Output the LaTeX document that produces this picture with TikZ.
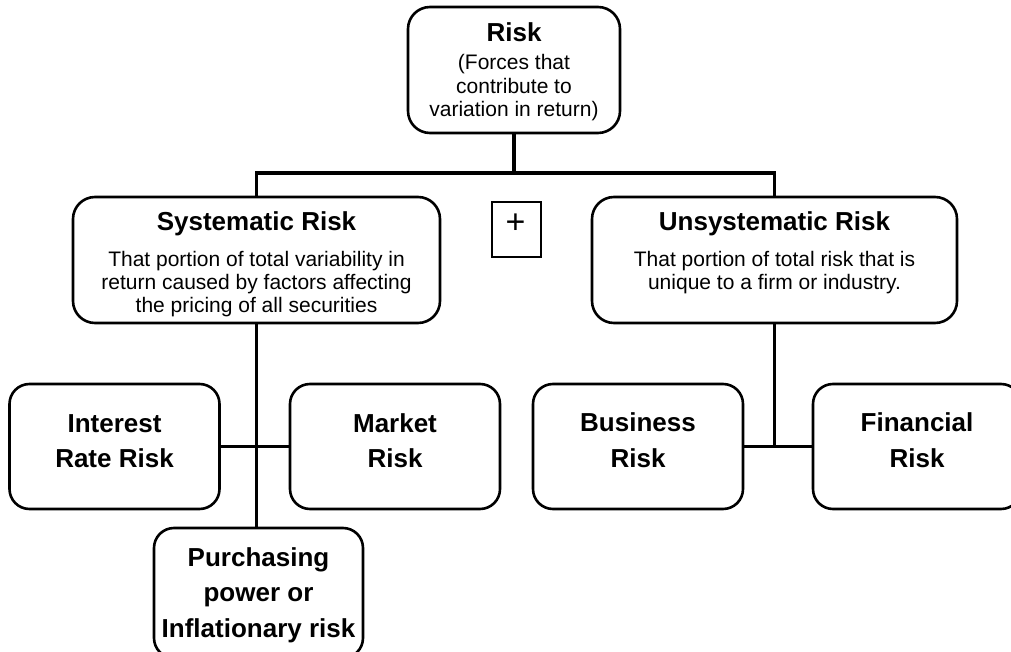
\documentclass[tikz,border=0pt]{standalone}
\usepackage{fontspec}
\setmainfont{Liberation Sans}
\begin{document}
\begin{tikzpicture}[x=1pt,y=-1pt,
  box/.style={draw=black, line width=2.6pt, rounded corners=22pt, fill=white, inner sep=0pt},
  leaf/.style={box, rounded corners=20pt, minimum width=210pt, minimum height=125pt},
  plusbox/.style={draw=black, line width=2.4pt, inner sep=0pt, minimum width=49pt, minimum height=55pt},
  conn/.style={draw=black, line width=3.2pt},
  hdr/.style={anchor=base, font=\fontsize{26}{30}\selectfont\bfseries, inner sep=0pt},
  bodytxt/.style={anchor=base, font=\fontsize{21}{24}\selectfont, inner sep=0pt}
]
\useasboundingbox (0,0) rectangle (1011,652);
\begin{scope}
\clip (0,0) rectangle (1011,652);
% boxes
\node[box, minimum width=212pt, minimum height=126pt] (risk) at (514,70) {};
\node[box, minimum width=367pt, minimum height=126pt] (sys) at (256.5,260) {};
\node[box, minimum width=365pt, minimum height=126pt] (uns) at (774.5,260) {};
\node[plusbox] (plus) at (516.5,229.5) {};
\node[leaf] (ir) at (114.5,446.5) {};
\node[leaf] (mk) at (395,446.5) {};
\node[leaf, minimum width=209pt, minimum height=130pt] (pur) at (258.5,593) {};
\node[leaf] (bus) at (638,446.5) {};
\node[leaf, minimum width=208pt] (fin) at (917,446.5) {};
% connectors
\coordinate (jtop) at (516,173);
\draw[conn] (risk.south) -- (risk.south |- jtop);
\draw[conn] (sys.north) |- (jtop) -| (uns.north);
\draw[conn] (sys.south) -- (sys.south |- pur.north);
\draw[conn] (ir.east) -- (mk.west);
\coordinate (jr) at (uns.south |- bus.east);
\draw[conn] (uns.south) -- (jr);
\draw[conn] (bus.east) -- (fin.west);
% texts
\node[hdr] (t1) at (514,42) {Risk};
\node[bodytxt] (t2) at (514,70) {(Forces that};
\node[bodytxt] (t3) at (514,93.3) {contribute to};
\node[bodytxt] (t4) at (514,116.6) {variation in return)};
\node[hdr] (s1) at (256.5,231) {Systematic Risk};
\node[bodytxt] (s2) at (256.5,266) {That portion of total variability in};
\node[bodytxt] (s3) at (256.5,289.3) {return caused by factors affecting};
\node[bodytxt] (s4) at (256.5,312.6) {the pricing of all securities};
\node[hdr] (u1) at (774.5,231) {Unsystematic Risk};
\node[bodytxt] (u2) at (774.5,266) {That portion of total risk that is};
\node[bodytxt] (u3) at (774.5,289.3) {unique to a firm or industry.};
\node[font=\fontsize{34}{38}\selectfont, inner sep=0pt] (pl) at (515.5,224) {+};
\node[hdr] (i1) at (114.5,432) {Interest};
\node[hdr] (i2) at (114.5,467) {Rate Risk};
\node[hdr] (m1) at (395,432) {Market};
\node[hdr] (m2) at (395,467) {Risk};
\node[hdr] (p1) at (258.5,566) {Purchasing};
\node[hdr] (p2) at (258.5,601.5) {power or};
\node[hdr] (p3) at (258.5,637) {Inflationary risk};
\node[hdr] (b1) at (638,431) {Business};
\node[hdr] (b2) at (638,467) {Risk};
\node[hdr] (f1) at (917,431) {Financial};
\node[hdr] (f2) at (917,467) {Risk};
\end{scope}
\end{tikzpicture}
\end{document}
